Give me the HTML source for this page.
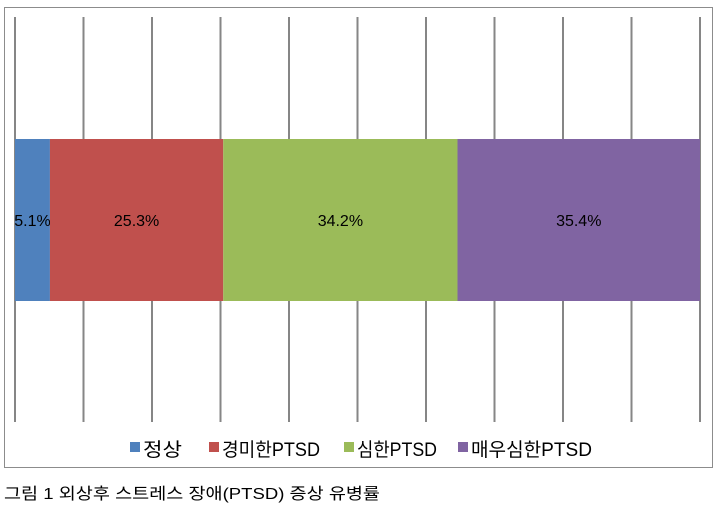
<!DOCTYPE html>
<html><head><meta charset="utf-8"><style>
body{margin:0;width:715px;height:508px;background:#fff;font-family:"Liberation Sans","Noto Sans CJK KR",sans-serif;overflow:hidden}
</style></head><body>
<svg width="715" height="508">
<rect x="4.5" y="7.5" width="708" height="460" fill="#fff" stroke="#8c8c8c"/>
<g id="grid"></g><g id="bars"></g><g id="legend"></g>
<text x="4" y="499" font-size="16" textLength="376" lengthAdjust="spacingAndGlyphs" fill="#000">그림 1 외상후 스트레스 장애(PTSD) 증상 유병률</text>
</svg>
<script>
const categories=["정상","경미한PTSD","심한PTSD","매우심한PTSD"];
const values=[5.1,25.3,34.2,35.4];
const labels=["5.1%","25.3%","34.2%","35.4%"];
const colors=["#4f81bd","#c0504d","#9bbb59","#8064a2"];
const ticks=[0,10,20,30,40,50,60,70,80,90,100];
const ns="http://www.w3.org/2000/svg";
const x0=15,x1=700,yTop=17,yBot=422,barY=139,barH=162;
const xs=v=>x0+(x1-x0)*v/100;
function mk(t,a,p){const e=document.createElementNS(ns,t);for(const k in a)e.setAttribute(k,a[k]);p.appendChild(e);return e;}
const g=document.getElementById("grid");
ticks.forEach(t=>{const l=mk("line",{x1:xs(t),x2:xs(t),y1:yTop,y2:yBot,stroke:"#868686","stroke-width":2},g);

});
const b=document.getElementById("bars");let cum=0;
values.forEach((v,i)=>{const r=mk("rect",{x:xs(cum),y:barY,width:xs(cum+v)-xs(cum),height:barH,fill:colors[i]},b);


const t=mk("text",{x:(xs(cum)+xs(cum+v))/2,y:barY+barH/2+6,"text-anchor":"middle","font-size":16,fill:"#000"},b);
t.textContent=labels[i];


cum+=v;});
const lg=document.getElementById("legend");
const lx=[130,209,344,458];
const lw=[39,98,80,121];
categories.forEach((c,i)=>{const s=mk("rect",{x:lx[i],y:442,width:10,height:10,fill:colors[i]},lg);


const t=mk("text",{x:lx[i]+13,y:456,"font-size":19,textLength:lw[i],lengthAdjust:"spacingAndGlyphs",fill:"#000"},lg);t.textContent=c;

});
</script>
</body></html>
